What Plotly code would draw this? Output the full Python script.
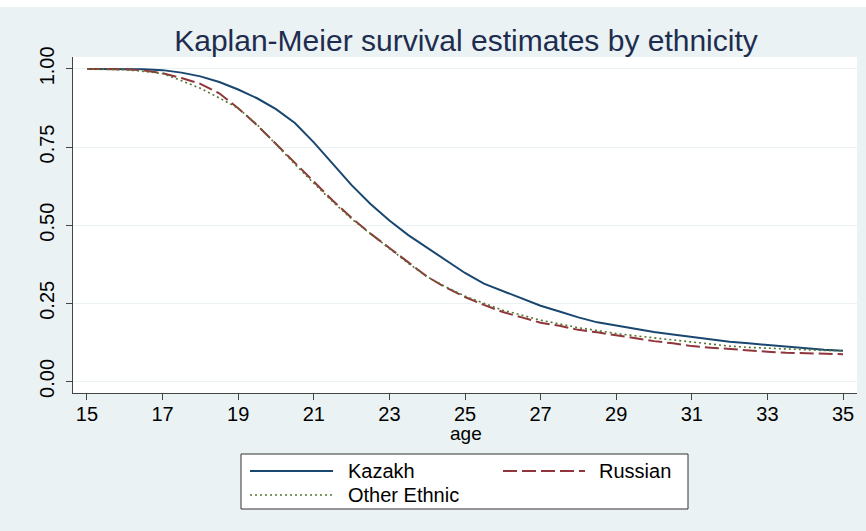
import plotly.graph_objects as go

# Kaplan-Meier survival estimates (proportion not yet married) by age
age = [15, 15.5, 16, 16.5, 17, 17.5, 18, 18.5, 19, 19.5, 20, 20.5, 21, 21.5,
       22, 22.5, 23, 23.5, 24, 24.5, 25, 25.5, 26, 26.5, 27, 27.5, 28, 28.5,
       29, 29.5, 30, 30.5, 31, 31.5, 32, 32.5, 33, 33.5, 34, 34.5, 35]

kazakh = [1.000, 1.000, 1.000, 0.999, 0.996, 0.988, 0.976, 0.958, 0.934, 0.906,
          0.871, 0.827, 0.765, 0.695, 0.628, 0.568, 0.515, 0.468, 0.427, 0.386,
          0.347, 0.313, 0.290, 0.265, 0.242, 0.224, 0.205, 0.189, 0.178, 0.168,
          0.158, 0.150, 0.142, 0.133, 0.127, 0.122, 0.117, 0.110, 0.105, 0.101,
          0.098]

russian = [1.000, 1.000, 0.999, 0.995, 0.986, 0.971, 0.952, 0.922, 0.874, 0.820,
           0.760, 0.699, 0.638, 0.579, 0.523, 0.473, 0.427, 0.380, 0.335, 0.300,
           0.270, 0.245, 0.222, 0.205, 0.188, 0.178, 0.165, 0.157, 0.147, 0.138,
           0.129, 0.122, 0.113, 0.108, 0.103, 0.099, 0.095, 0.092, 0.090, 0.088,
           0.087]

other = [1.000, 0.999, 0.997, 0.992, 0.985, 0.962, 0.938, 0.907, 0.874, 0.822,
         0.757, 0.695, 0.634, 0.575, 0.520, 0.472, 0.423, 0.378, 0.335, 0.302,
         0.273, 0.250, 0.228, 0.212, 0.196, 0.184, 0.172, 0.163, 0.153, 0.146,
         0.139, 0.133, 0.125, 0.120, 0.113, 0.109, 0.106, 0.103, 0.101, 0.099,
         0.098]

x_ticks = [15, 17, 19, 21, 23, 25, 27, 29, 31, 33, 35]
y_ticks = [0, 0.25, 0.5, 0.75, 1.0]
y_tick_labels = ["0.00", "0.25", "0.50", "0.75", "1.00"]

NAVY = "#1a476f"
MAROON = "#90353b"
GREEN = "#55752f"
BG = "#eaf2f3"
FONT = "Liberation Sans, Arial, sans-serif"

series = [
    ("Kazakh", kazakh, dict(color=NAVY, width=2, dash="solid")),
    ("Russian", russian, dict(color=MAROON, width=2, dash="14px,5px")),
    ("Other Ethnic", other, dict(color=GREEN, width=1.6, dash="2px,3px")),
]

fig = go.Figure()
for name, vals, line in series:
    fig.add_trace(go.Scatter(x=age, y=vals, mode="lines", name=name,
                             line=line, showlegend=False))

fig.update_layout(
    width=866, height=531,
    margin=dict(l=73, r=9, t=57, b=138),
    paper_bgcolor=BG, plot_bgcolor="white",
    font=dict(family=FONT, color="#000000"),
    title=dict(text="Kaplan-Meier survival estimates by ethnicity",
               x=(466 - 73) / 784, xref="paper", xanchor="center",
               y=1 - 40 / 531, yanchor="middle",
               font=dict(size=30, color="#1e2d4f")),
    xaxis=dict(range=[14.63, 35.37], tickvals=x_ticks,
               ticks="outside", ticklen=6, tickcolor="#444444",
               showline=True, linecolor="#444444", linewidth=1,
               showgrid=False, zeroline=False, ticklabelstandoff=-3,
               tickfont=dict(size=20, color="#000000")),
    yaxis=dict(range=[-0.037, 1.038], tickvals=y_ticks, ticktext=y_tick_labels,
               tickangle=-90, ticks="outside", ticklen=6, tickcolor="#444444",
               showline=True, linecolor="#444444", linewidth=1,
               showgrid=True, gridcolor=BG, gridwidth=1.2, zeroline=False,
               ticklabelstandoff=4,
               tickfont=dict(size=20, color="#000000")),
)

# white strip along the top edge of the page
fig.add_shape(type="rect", xref="paper", yref="paper",
              x0=-73 / 784, x1=1 + 9 / 784, y0=1 + 50 / 336, y1=1 + 60 / 336,
              fillcolor="white", line_width=0, layer="below")

W, H = 784.0, 336.0  # plot-area size in pixels
def px(xp):
    return (xp - 73) / W
def py(yp):
    return (393 - yp) / H

# x-axis title
fig.add_annotation(xref="paper", yref="paper", x=px(466), y=py(433),
                   text="age", showarrow=False, xanchor="center",
                   yanchor="middle", font=dict(size=19, color="#000000"))

# legend drawn as a boxed key below the axis
fig.add_shape(type="rect", xref="paper", yref="paper",
              x0=px(241), x1=px(688), y0=py(509), y1=py(454),
              fillcolor="white", line=dict(color="#333333", width=1))

key = [("Kazakh", series[0][2], 250, 333, 346, 471),
       ("Russian", series[1][2], 503, 585, 597, 471),
       ("Other Ethnic", series[2][2], 250, 333, 346, 495)]
for label, line, xa, xb, xt, yy in key:
    fig.add_shape(type="line", xref="paper", yref="paper",
                  x0=px(xa), x1=px(xb), y0=py(yy), y1=py(yy), line=line)
    fig.add_annotation(xref="paper", yref="paper", x=px(xt), y=py(yy),
                       text=label, showarrow=False, xanchor="left",
                       yanchor="middle", font=dict(size=20, color="#000000"))

fig.write_html("out.html")
